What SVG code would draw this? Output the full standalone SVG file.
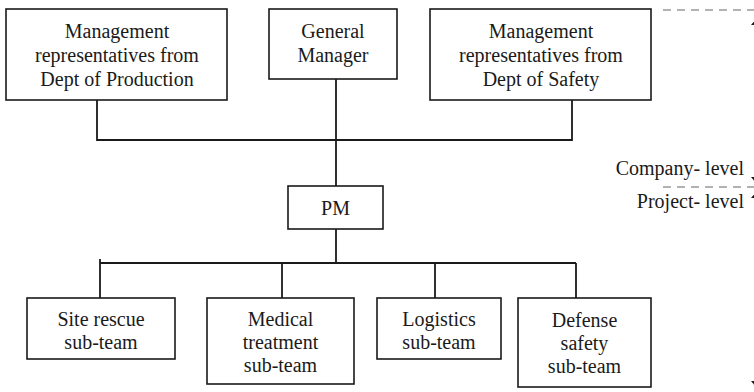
<svg xmlns="http://www.w3.org/2000/svg" width="754" height="392" viewBox="0 0 754 392">
  <style>
    .box { fill: #ffffff; stroke: #1a1a1a; stroke-width: 1.6; }
    .lbl { font-family: 'Liberation Serif', 'Times New Roman', Times, 'DejaVu Serif', serif; font-size: 20px; fill: #1a1a1a; text-anchor: middle; }
    .side { font-family: 'Liberation Serif', 'Times New Roman', Times, 'DejaVu Serif', serif; font-size: 20px; fill: #1a1a1a; text-anchor: end; }
    .wire { fill: none; stroke: #1a1a1a; stroke-width: 1.8; }
    .dash { fill: none; stroke: #666666; stroke-width: 1.2; stroke-dasharray: 8 6; }
    .head { fill: #1a1a1a; }
  </style>

  <rect width="754" height="392" fill="#ffffff"/>

  <!-- connectors -->
  <g id="connectors">
    <polyline class="wire" points="97,100 97,140 572,140 572,100"/>
    <line class="wire" x1="336" y1="79" x2="336" y2="186"/>
    <line class="wire" x1="336" y1="229" x2="336" y2="263"/>
    <line class="wire" x1="100" y1="263" x2="576" y2="263"/>
    <line class="wire" x1="100" y1="259" x2="100" y2="298"/>
    <line class="wire" x1="282" y1="263" x2="282" y2="298"/>
    <line class="wire" x1="435" y1="263" x2="435" y2="298"/>
    <line class="wire" x1="576" y1="263" x2="576" y2="298"/>
  </g>

  <!-- company / project level markers -->
  <g id="levels">
    <line class="dash" x1="663" y1="10" x2="760" y2="10"/>
    <line class="dash" x1="663" y1="187" x2="760" y2="187"/>
    <line class="wire" x1="758" y1="20" x2="758" y2="180"/>
    <line class="wire" x1="758" y1="194" x2="758" y2="385"/>
    <polygon class="head" points="758,17 751,25 765,25"/>
    <polygon class="head" points="758,185 751,177 765,177"/>
    <polygon class="head" points="758,190 751,198 765,198"/>
    <polygon class="head" points="758,389 751,381 765,381"/>
    <text class="side" x="744" y="175">Company- level</text>
    <text class="side" x="744" y="208">Project- level</text>
  </g>

  <g id="dept-production">
    <rect class="box" x="6" y="9" width="221" height="91"/>
    <text class="lbl" x="117" y="38">Management</text>
    <text class="lbl" x="117" y="62">representatives from</text>
    <text class="lbl" x="117" y="86">Dept of Production</text>
  </g>

  <g id="general-manager">
    <rect class="box" x="269" y="9" width="128" height="70"/>
    <text class="lbl" x="333" y="38">General</text>
    <text class="lbl" x="333" y="62">Manager</text>
  </g>

  <g id="dept-safety">
    <rect class="box" x="430" y="9" width="221" height="91"/>
    <text class="lbl" x="541" y="38">Management</text>
    <text class="lbl" x="541" y="62">representatives from</text>
    <text class="lbl" x="541" y="86">Dept of Safety</text>
  </g>

  <g id="pm">
    <rect class="box" x="288" y="186" width="95" height="43"/>
    <text class="lbl" x="335.5" y="215">PM</text>
  </g>

  <g id="site-rescue">
    <rect class="box" x="27" y="298" width="148" height="61"/>
    <text class="lbl" x="101" y="326">Site rescue</text>
    <text class="lbl" x="101" y="349">sub-team</text>
  </g>

  <g id="medical-treatment">
    <rect class="box" x="207" y="298" width="147" height="86"/>
    <text class="lbl" x="280.5" y="326">Medical</text>
    <text class="lbl" x="280.5" y="349">treatment</text>
    <text class="lbl" x="280.5" y="372">sub-team</text>
  </g>

  <g id="logistics">
    <rect class="box" x="377" y="298" width="124" height="61"/>
    <text class="lbl" x="439" y="326">Logistics</text>
    <text class="lbl" x="439" y="349">sub-team</text>
  </g>

  <g id="defense-safety">
    <rect class="box" x="518" y="298" width="133" height="89"/>
    <text class="lbl" x="584.5" y="327">Defense</text>
    <text class="lbl" x="584.5" y="350">safety</text>
    <text class="lbl" x="584.5" y="373">sub-team</text>
  </g>
</svg>
